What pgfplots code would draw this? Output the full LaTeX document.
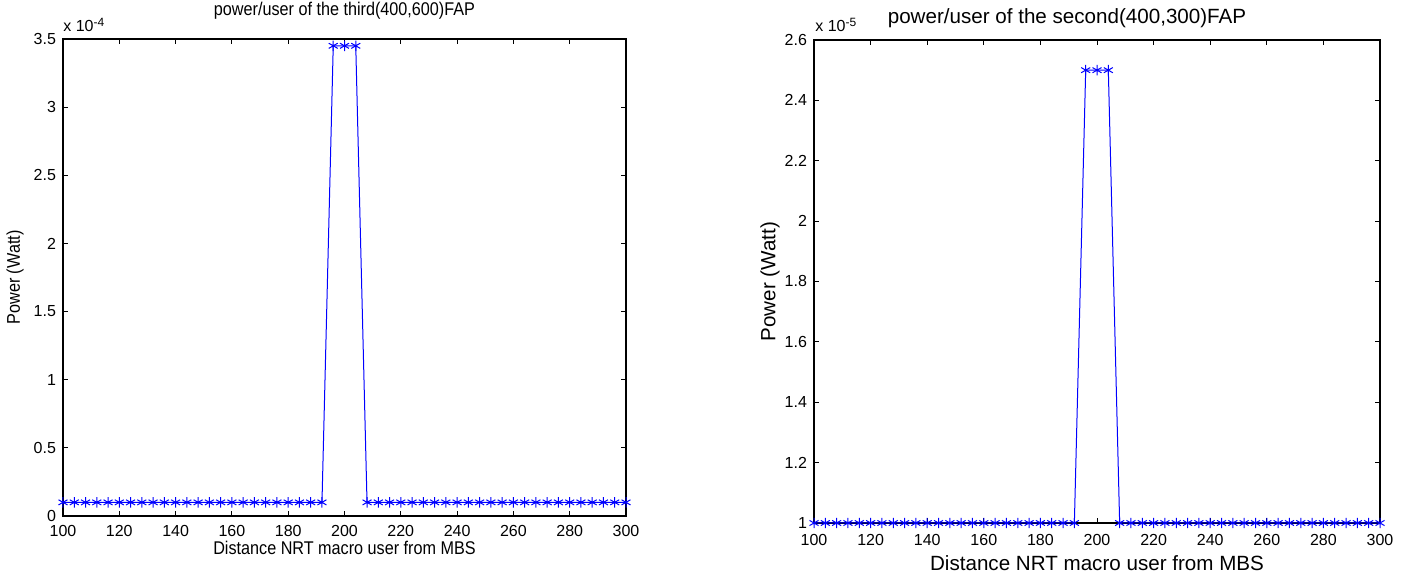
\documentclass[border=0pt]{standalone}
\usepackage{pgfplots}
\usepackage{pgfplotstable}
\pgfplotsset{compat=1.18}
\usepackage{fontspec}
\setmainfont{Liberation Sans}
\newfontfamily\lfont[FakeStretch=0.88]{Liberation Sans}

% left: power/user of the third FAP (units of 1e-4 W)
\pgfplotstableread{
x y
100 0.1
104 0.1
108 0.1
112 0.1
116 0.1
120 0.1
124 0.1
128 0.1
132 0.1
136 0.1
140 0.1
144 0.1
148 0.1
152 0.1
156 0.1
160 0.1
164 0.1
168 0.1
172 0.1
176 0.1
180 0.1
184 0.1
188 0.1
192 0.1
196 3.45
200 3.45
204 3.45
208 0.1
212 0.1
216 0.1
220 0.1
224 0.1
228 0.1
232 0.1
236 0.1
240 0.1
244 0.1
248 0.1
252 0.1
256 0.1
260 0.1
264 0.1
268 0.1
272 0.1
276 0.1
280 0.1
284 0.1
288 0.1
292 0.1
296 0.1
300 0.1
}\leftdata

% right: power/user of the second FAP (units of 1e-5 W)
\pgfplotstableread{
x y
100 1
104 1
108 1
112 1
116 1
120 1
124 1
128 1
132 1
136 1
140 1
144 1
148 1
152 1
156 1
160 1
164 1
168 1
172 1
176 1
180 1
184 1
188 1
192 1
196 2.5
200 2.5
204 2.5
208 1
212 1
216 1
220 1
224 1
228 1
232 1
236 1
240 1
244 1
248 1
252 1
256 1
260 1
264 1
268 1
272 1
276 1
280 1
284 1
288 1
292 1
296 1
300 1
}\rightdata

\pgfplotsset{mystyle/.style={
  scale only axis,
  xmin=100, xmax=300,
  xtick={100,120,...,300},
  tick align=inside,
  major tick length=2.5pt,
  axis line style={line width=0.6pt},
  every tick/.style={black, line width=0.5pt},
  clip=false,
  scaled ticks=false,
  /pgf/number format/assume math mode=true,
  /pgf/number format/fixed,
}}

\begin{document}
\begin{tikzpicture}
\path[use as bounding box] (0,0) rectangle (705.5pt,288pt);

\begin{axis}[mystyle,
  at={(31.5pt,30pt)}, anchor=south west,
  width=281.5pt, height=238.5pt,
  ymin=0, ymax=3.5,
  ytick={0,0.5,...,3.5},
  ticklabel style={font=\fontsize{8}{9.6}\selectfont},
  xticklabel style={yshift=-1pt},
  title={power/user of the third(400,600)FAP},
  title style={at={(axis description cs:0.5,1)}, anchor=base, yshift=5.5pt, font=\lfont\fontsize{9.2}{11}\selectfont},
  xlabel={Distance NRT macro user from MBS},
  xlabel style={at={(axis description cs:0.5,0)}, anchor=center, yshift=-16pt, font=\lfont\fontsize{9.2}{11}\selectfont},
  ylabel={Power (Watt)},
  ylabel style={at={(axis description cs:0,0.5)}, anchor=center, yshift=24pt, font=\lfont\fontsize{9.2}{11}\selectfont},
]
\addplot[blue, line width=0.5pt, mark=asterisk, mark size=2.6pt, mark options={line width=0.5pt}] table {\leftdata};
\node[anchor=base west, inner sep=0pt, font=\fontsize{8}{9.6}\selectfont] at (axis description cs:0,1) [yshift=3.5pt] {x 10\textsuperscript{-4}};
\end{axis}

\begin{axis}[mystyle,
  at={(407pt,26.5pt)}, anchor=south west,
  width=283pt, height=241.5pt,
  ymin=1, ymax=2.6,
  ytick={1,1.2,...,2.6},
  ticklabel style={font=\fontsize{8}{9.6}\selectfont},
  xticklabel style={yshift=-2pt},
  title={power/user of the second(400,300)FAP},
  title style={at={(axis description cs:0.5,1)}, anchor=base, yshift=2pt, xshift=-15pt, font=\fontsize{10.3}{12.4}\selectfont},
  xlabel={Distance NRT macro user from MBS},
  xlabel style={at={(axis description cs:0.5,0)}, anchor=center, yshift=-20pt, font=\fontsize{10.3}{12.4}\selectfont},
  ylabel={Power (Watt)},
  ylabel style={at={(axis description cs:0,0.5)}, anchor=center, yshift=22pt, font=\fontsize{10.3}{12.4}\selectfont},
]
\addplot[blue, line width=0.5pt, mark=asterisk, mark size=2.6pt, mark options={line width=0.5pt}] table {\rightdata};
\node[anchor=base west, inner sep=0pt, font=\fontsize{8}{9.6}\selectfont] at (axis description cs:0,1) [yshift=4pt, xshift=0.5pt] {x 10\textsuperscript{-5}};
\end{axis}
\end{tikzpicture}
\end{document}
